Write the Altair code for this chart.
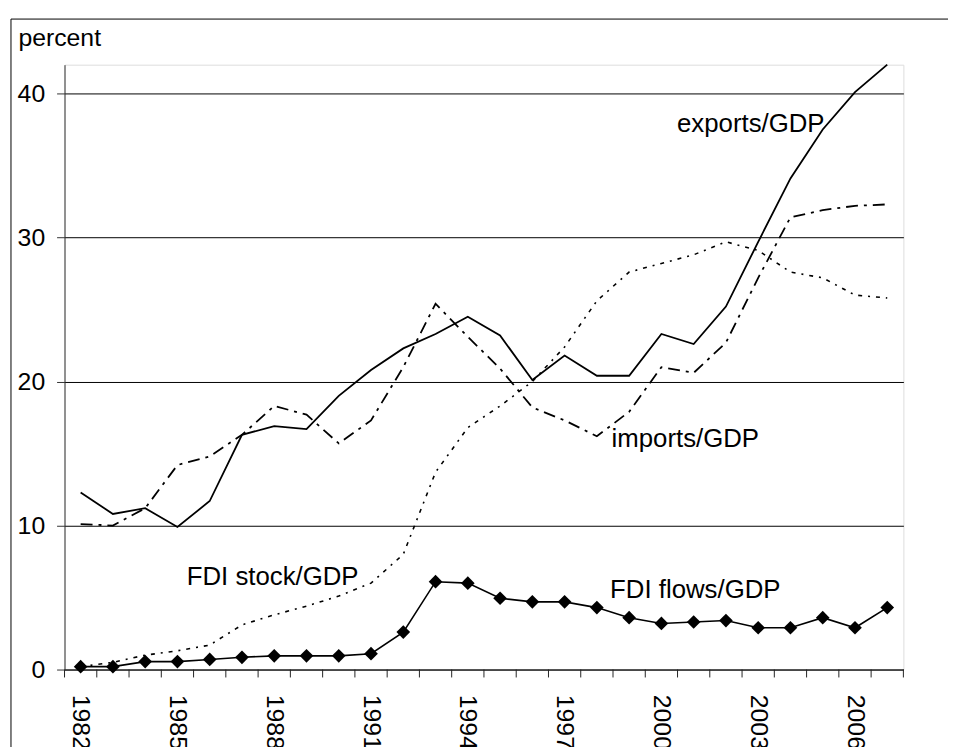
import altair as alt
import pandas as pd

# ---- data ----
years = list(range(1982, 2008))
exports = [12.3, 10.8, 11.2, 9.9, 11.7, 16.3, 16.9, 16.7, 19.0, 20.8, 22.3, 23.3, 24.5,
           23.2, 20.1, 21.8, 20.4, 20.4, 23.3, 22.6, 25.2, 29.7, 34.1, 37.5, 40.1, 42.0]
imports = [10.1, 10.0, 11.2, 14.2, 14.8, 16.3, 18.3, 17.7, 15.7, 17.3, 21.0, 25.4, 23.1,
           20.9, 18.2, 17.3, 16.2, 17.9, 21.0, 20.6, 22.7, 27.2, 31.4, 31.9, 32.2, 32.3]
fdi_stock = [0.2, 0.5, 1.0, 1.3, 1.7, 3.1, 3.8, 4.4, 5.1, 6.0, 8.0, 13.7, 16.8,
             18.3, 20.0, 22.4, 25.6, 27.6, 28.2, 28.8, 29.7, 29.1, 27.6, 27.2, 26.0, 25.8]
fdi_flows = [0.2, 0.2, 0.55, 0.55, 0.7, 0.85, 0.95, 0.95, 0.95, 1.1, 2.6, 6.1, 6.0,
             4.95, 4.7, 4.7, 4.3, 3.6, 3.2, 3.3, 3.4, 2.9, 2.9, 3.6, 2.9, 4.3]

label_years = [1982, 1985, 1988, 1991, 1994, 1997, 2000, 2003, 2006]
y_ticks = [0, 10, 20, 30, 40]
y_max = 42

ann_text = ["exports/GDP", "imports/GDP", "FDI stock/GDP", "FDI flows/GDP"]
ann_x = [2002.77, 2000.74, 1987.95, 2001.05]
ann_y = [37.9, 16.0, 6.4, 5.5]

# ---- layout ----
W, H = 846, 610
FONT = "Liberation Sans"

df = pd.DataFrame({
    "year": years,
    "exports": exports,
    "imports": imports,
    "fdi_stock": fdi_stock,
    "fdi_flows": fdi_flows,
})
ann = pd.DataFrame({"text": ann_text, "x": ann_x, "y": ann_y})
bounds = pd.DataFrame({"b": [y - 0.5 for y in years] + [years[-1] + 0.5]})

x_scale = alt.Scale(domain=[years[0] - 0.5, years[-1] + 0.5], nice=False, zero=False)
y_scale = alt.Scale(domain=[0, y_max], nice=False)

x_axis = alt.Axis(
    values=label_years, format="d",
    labelAngle=90, labelAlign="left", labelBaseline="middle",
    labelPadding=25, ticks=False,
    grid=False, title=None,
    labelFontSize=25, labelFont=FONT, labelColor="black",
    labelOverlap=False, labelFlush=False, labelBound=False,
    domainColor="#222222",
)
y_axis = alt.Axis(
    values=y_ticks, tickSize=8, labelPadding=12,
    labelFontSize=25, labelFont=FONT, labelColor="black",
    grid=True, gridColor="black", gridWidth=1,
    domainColor="#333333", tickColor="#333333",
    title="percent", titleAngle=0, titleAlign="left", titleBaseline="alphabetic",
    titleX=-47, titleY=-19, titleFontSize=25, titleFont=FONT,
    titleFontWeight="normal", titleColor="black",
)

base = alt.Chart(df)
X = alt.X("year:Q", scale=x_scale, axis=x_axis)

frame = alt.Chart(pd.DataFrame({"a": [0]})).mark_rect(
    fill="transparent", stroke="black", strokeWidth=1
).encode(x=alt.value(-54), x2=alt.value(W + 200), y=alt.value(-46), y2=alt.value(H + 200))

ticks = alt.Chart(bounds).mark_rule(color="#222222", strokeWidth=1).encode(
    x="b:Q", y=alt.value(H), y2=alt.value(H + 8))

exp_line = base.mark_line(color="black", strokeWidth=1.8).encode(
    x=X, y=alt.Y("exports:Q", scale=y_scale, axis=y_axis))
imp_line = base.mark_line(color="black", strokeWidth=1.8, strokeDash=[12, 6, 3, 6]).encode(
    x="year:Q", y="imports:Q")
stock_line = base.mark_line(color="black", strokeWidth=1.6, strokeDash=[4, 6, 2, 6]).encode(
    x="year:Q", y="fdi_stock:Q")
flow_line = base.mark_line(color="black", strokeWidth=1.6).encode(
    x="year:Q", y="fdi_flows:Q")
flow_pts = base.mark_point(shape="diamond", size=190, filled=True, color="black", opacity=1).encode(
    x="year:Q", y="fdi_flows:Q")

labels = alt.Chart(ann).mark_text(
    font=FONT, fontSize=26, color="black", align="center", baseline="middle"
).encode(x="x:Q", y="y:Q", text="text:N")

chart = alt.layer(
    frame, ticks, exp_line, imp_line, stock_line, flow_line, flow_pts, labels
).properties(
    width=W, height=H,
    autosize=alt.AutoSizeParams(type="none"),
    padding={"left": 57, "top": 54, "right": 45, "bottom": 80},
).configure_view(
    stroke="#808080", strokeWidth=1.5
).configure(background="white")

chart.save("out.html", embed_options={"renderer": "svg", "actions": False})
